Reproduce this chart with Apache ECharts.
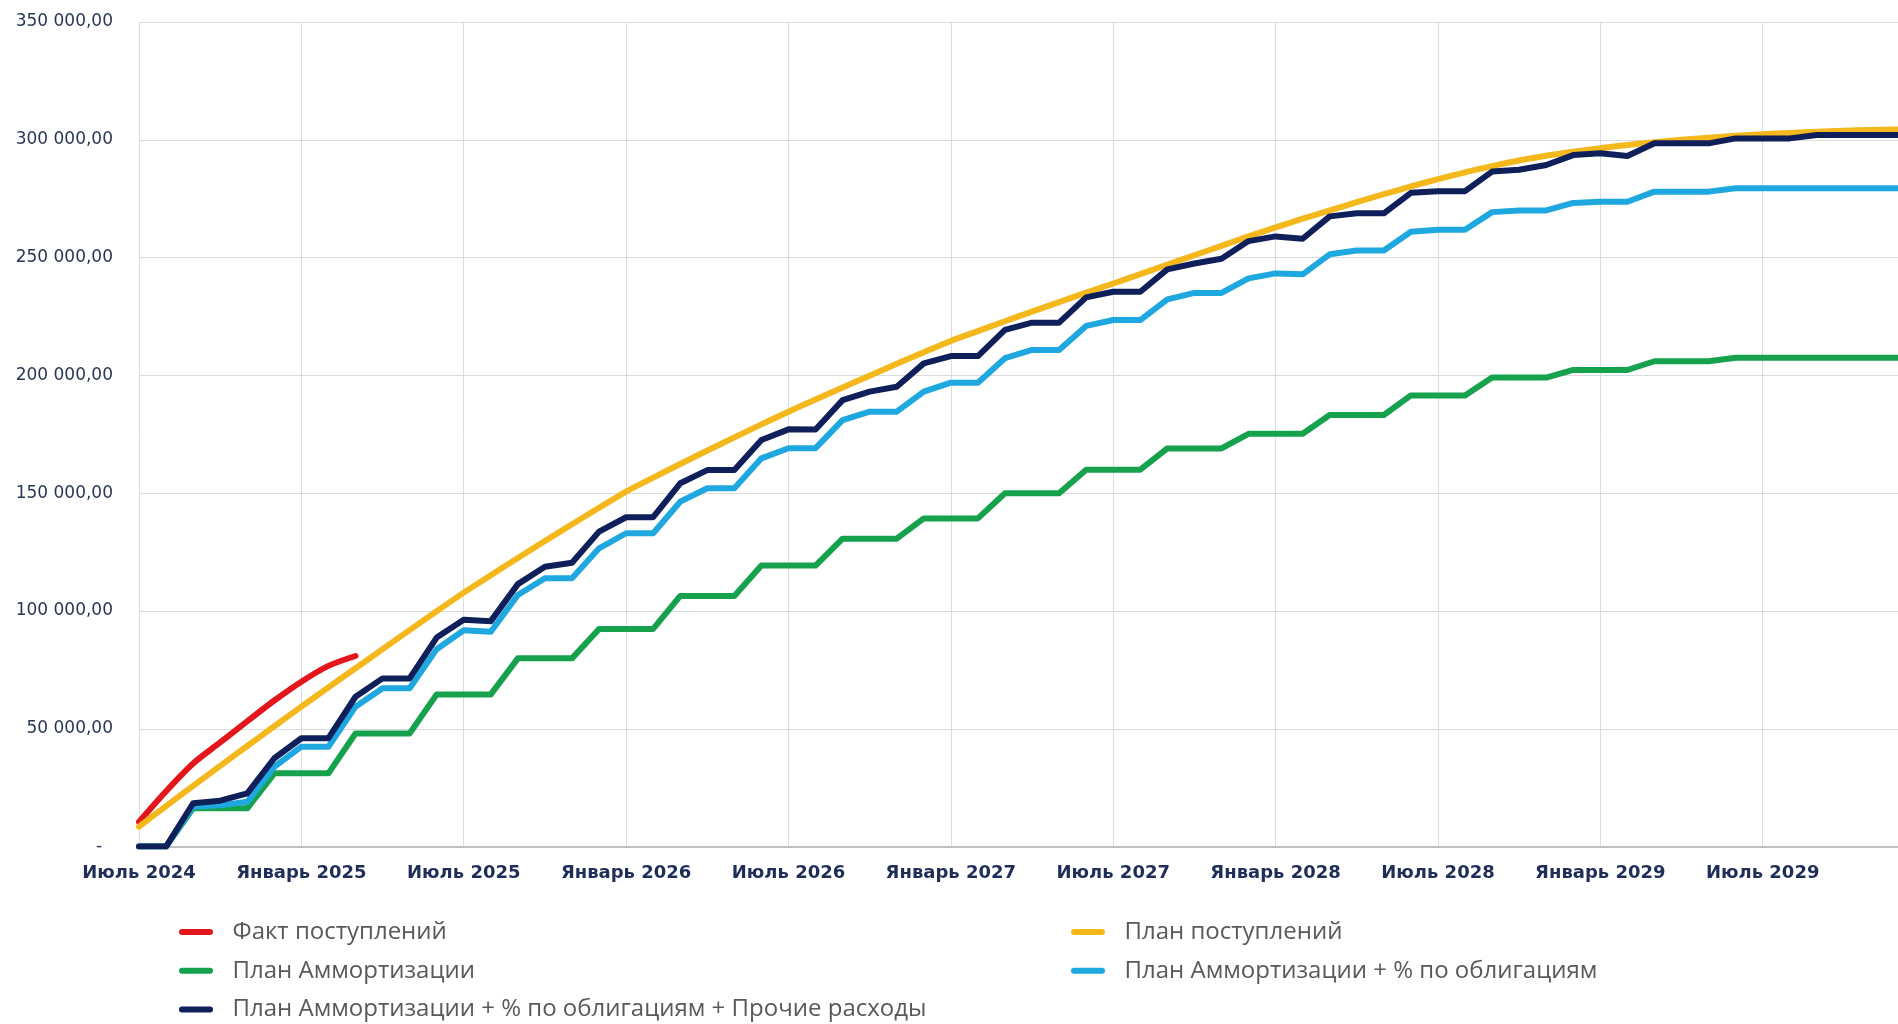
<!DOCTYPE html>
<html>
<head>
<meta charset="utf-8">
<script src="https://cdn.jsdelivr.net/npm/echarts@6/dist/echarts.min.js"></script>
<style>
  html, body { margin: 0; padding: 0; background: #ffffff; }
  #chart { width: 1898px; height: 1024px; }
</style>
</head>
<body>
<div id="chart"></div>
<script>
// month labels, Июль 2024 .. Декабрь 2029
var monthNames = ['Январь', 'Февраль', 'Март', 'Апрель', 'Май', 'Июнь',
  'Июль', 'Август', 'Сентябрь', 'Октябрь', 'Ноябрь', 'Декабрь'];
var categories = [];
for (var k = 0; k < 66; k++) {
  var m = (6 + k) % 12;
  var y = 2024 + Math.floor((6 + k) / 12);
  categories.push(monthNames[m] + ' ' + y);
}

// Факт поступлений (ends in March 2025)
var factIncome = [10500, 23500, 35300, 44200, 53200, 62000, 70000, 76700, 80900];

// План поступлений
var planIncome = [
  8500, 17200, 25800, 34300, 42700, 51100, 59400, 67600, 75700, 83800,
  91900, 99900, 107800, 115200, 122500, 129700, 136800, 143800, 150700, 156600,
  162400, 168100, 173700, 179200, 184600, 189800, 194900, 199900, 204900, 209800,
  214600, 218800, 223000, 227100, 231100, 235100, 239000, 243000, 247000, 251000,
  255000, 259000, 262800, 266500, 270000, 273500, 276900, 280200, 283300, 286200,
  288800, 291200, 293200, 294900, 296400, 297800, 299000, 300000, 300900, 301700,
  302400, 302900, 303400, 303800, 304200, 304400
];

// План Аммортизации
var planAmort = [
  0, 0, 16250, 16250, 16250, 31100, 31100, 31100, 48000, 48000,
  48000, 64600, 64600, 64600, 79900, 79900, 79900, 92400, 92400, 92400,
  106400, 106400, 106400, 119300, 119300, 119300, 130700, 130700, 130700, 139300,
  139300, 139300, 150000, 150000, 150000, 160000, 160000, 160000, 169000, 169000,
  169000, 175200, 175200, 175200, 183200, 183200, 183200, 191500, 191500, 191500,
  199100, 199100, 199100, 202300, 202300, 202300, 206000, 206000, 206000, 207500,
  207500, 207500, 207500, 207500, 207500, 207500
];

// План Аммортизации + % по облигациям
var planAmortBonds = [
  0, 0, 16900, 17500, 19000, 33900, 42400, 42400, 59400, 67200,
  67200, 83800, 91800, 91200, 106800, 113900, 113900, 126600, 133000, 133000,
  146400, 152100, 152100, 164800, 169100, 169100, 181000, 184600, 184600, 193100,
  196900, 196900, 207300, 210800, 210800, 221000, 223500, 223500, 232300, 235000,
  235000, 241200, 243300, 242900, 251400, 253000, 253000, 261000, 261800, 261800,
  269300, 270000, 270000, 273200, 273700, 273700, 278000, 278000, 278000, 279400,
  279400, 279400, 279400, 279400, 279400, 279400
];

// План Аммортизации + % по облигациям + Прочие расходы
var planAmortBondsOther = [
  0, 0, 18400, 19500, 22600, 37500, 46000, 46000, 63600, 71400,
  71400, 88700, 96300, 95700, 111400, 118800, 120500, 133700, 139800, 139800,
  154200, 159800, 159800, 172600, 177100, 177000, 189500, 193100, 195200, 205100,
  208200, 208200, 219300, 222400, 222400, 233100, 235500, 235500, 245000, 247500,
  249500, 257000, 259000, 258000, 267500, 268800, 268800, 277500, 278200, 278200,
  286500, 287300, 289300, 293500, 294300, 293100, 298500, 298500, 298500, 300600,
  300600, 300600, 302000, 302000, 302000, 302000
];

var seriesNames = [
  'Факт поступлений',
  'План поступлений',
  'План Аммортизации',
  'План Аммортизации + % по облигациям',
  'План Аммортизации + % по облигациям + Прочие расходы'
];
var seriesColors = ['#e3161b', '#f4b81c', '#16a24c', '#1fa8e0', '#0f1f5a'];

function fmtValue(v) {
  if (v === 0) return '-  ';
  var s = String(Math.round(v));
  s = s.replace(/\B(?=(\d{3})+(?!\d))/g, ' ');
  return s + ',00';
}

function lineSeries(idx, data, smooth) {
  return {
    name: seriesNames[idx],
    type: 'line',
    data: data,
    smooth: smooth,
    showSymbol: false,
    symbol: 'none',
    color: seriesColors[idx],
    lineStyle: { width: 6, color: seriesColors[idx], cap: 'round', join: 'round' }
  };
}

var pill = 'path://M3,0 L31,0 A3,3 0 0 1 31,6 L3,6 A3,3 0 0 1 3,0 Z';
var legendText = {
  fontFamily: 'Open Sans',
  fontSize: 24,
  color: '#595959',
  lineHeight: 24,
  padding: [0, 0, 0, 14]
};

var chart = echarts.init(document.getElementById('chart'), null, { renderer: 'canvas' });
chart.setOption({
  animation: false,
  backgroundColor: '#ffffff',
  grid: { left: 139, top: 22, bottom: 177.4, right: -20, containLabel: false },
  legend: [
    {
      left: 179, top: 920, height: 120, padding: 0, orient: 'vertical', itemGap: 14.7,
      itemWidth: 35, itemHeight: 6, icon: pill,
      data: [seriesNames[0], seriesNames[2], seriesNames[4]],
      textStyle: legendText
    },
    {
      left: 1071, top: 920, height: 120, padding: 0, orient: 'vertical', itemGap: 14.7,
      itemWidth: 35, itemHeight: 6, icon: pill,
      data: [seriesNames[1], seriesNames[3]],
      textStyle: legendText
    }
  ],
  xAxis: {
    type: 'category',
    data: categories,
    boundaryGap: false,
    axisLine: { show: true, lineStyle: { color: '#c0c0c0', width: 2 } },
    axisTick: { show: false },
    axisLabel: {
      interval: 5,
      margin: 18,
      fontFamily: 'DejaVu Sans',
      fontWeight: 'bold',
      fontSize: 18,
      color: '#1f2d59'
    },
    splitLine: { show: true, interval: 5, lineStyle: { color: '#dcdcdc', width: 1 } }
  },
  yAxis: {
    type: 'value',
    min: 0,
    max: 350000,
    interval: 50000,
    axisLine: { show: false },
    axisTick: { show: false },
    axisLabel: {
      margin: 26,
      fontFamily: 'DejaVu Sans',
      fontSize: 17,
      color: '#2a3657',
      formatter: fmtValue
    },
    splitLine: { show: true, lineStyle: { color: '#dcdcdc', width: 1 } }
  },
  series: [
    lineSeries(0, factIncome, 0.3),
    lineSeries(1, planIncome, 0.3),
    lineSeries(2, planAmort, false),
    lineSeries(3, planAmortBonds, false),
    lineSeries(4, planAmortBondsOther, false)
  ]
});
</script>
</body>
</html>
